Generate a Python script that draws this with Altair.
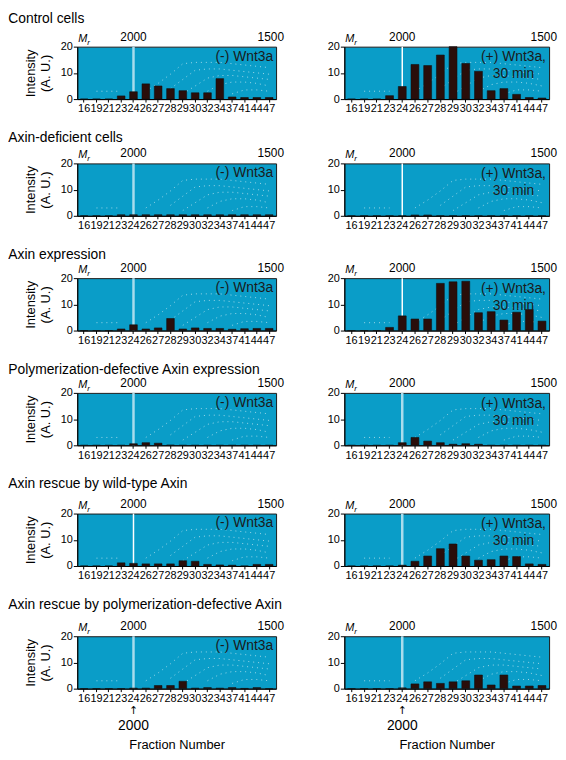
import altair as alt
import pandas as pd

fractions = ["16", "19", "21", "23", "24", "26", "27", "28", "29", "30",
             "32", "34", "37", "41", "44", "47"]

section_titles = [
    "Control cells",
    "Axin-deficient cells",
    "Axin expression",
    "Polymerization-defective Axin expression",
    "Axin rescue by wild-type Axin",
    "Axin rescue by polymerization-defective Axin",
]

# intensity (A. U.) per fraction, (-) Wnt3a panels
neg_values = [
    [0, 0, 0, 1.2, 2.8, 5.8, 5.0, 4.0, 3.2, 2.4, 2.4, 7.8, 0.8, 0.6, 0.6, 0.6],
    [0, 0, 0, 0.4, 0.4, 0.4, 0.4, 0.4, 0.4, 0.4, 0.4, 0.4, 0.4, 0.4, 0.4, 0.4],
    [0, 0, 0, 0.6, 2.2, 0.6, 1.0, 4.6, 0.6, 1.0, 0.8, 0.8, 0.5, 0.7, 0.8, 0.8],
    [0, 0, 0, 0, 0.6, 1.0, 0.8, 0.1, 0, 0, 0, 0, 0, 0, 0, 0],
    [0, 0, 0, 1.2, 1.0, 0.8, 0.8, 0.8, 2.0, 1.8, 0.6, 0.4, 0.3, 0, 0.6, 0.6],
    [0, 0, 0, 0, 0.2, 0.2, 1.2, 1.2, 2.8, 0.2, 0.4, 0.2, 0.4, 0.1, 0.4, 0],
]
# intensity (A. U.) per fraction, (+) Wnt3a 30 min panels
pos_values = [
    [0, 0, 0, 1.3, 4.8, 13.2, 12.8, 16.8, 20.0, 13.6, 10.6, 3.2, 4.0, 1.8, 0.6, 0.4],
    [0, 0, 0, 0, 0, 0.3, 0.3, 0, 0, 0, 0, 0, 0, 0, 0, 0],
    [0, 0, 0, 1.2, 5.6, 4.4, 4.4, 18.0, 18.6, 18.8, 6.8, 7.2, 4.0, 7.0, 8.0, 3.6],
    [0, 0, 0, 0, 1.0, 3.0, 1.6, 1.0, 0.4, 0.6, 0.4, 0, 0, 0, 0, 0],
    [0, 0, 0, 0, 0.3, 1.8, 3.8, 6.6, 8.4, 3.8, 2.2, 2.4, 3.8, 3.6, 0.8, 0.6],
    [0, 0, 0, 0, 0.3, 1.8, 2.6, 2.0, 2.6, 3.0, 5.2, 1.4, 5.2, 1.0, 1.0, 1.2],
]
neg_labels = [["(-) Wnt3a"]] * 6
pos_labels = [["(+) Wnt3a,", "30 min"]] * 5 + [[]]
neg_rule_light = [True, True, True, True, False, True]
pos_rule_light = [False, False, False, True, True, True]
title_offsets = [4, 2, 0, 0, 6, 8]

# faint dotted background pattern of the blot (fraction -> intensity)
pattern_lines = {
    "a": (["19", "21", "23"], [3, 3, 3]),
    "b": (["26", "27", "28", "29", "30", "32", "34", "37", "41", "44", "47"],
          [3, 6, 9.5, 13.5, 14, 14, 14, 13.5, 13, 12.5, 12]),
    "c": (["28", "29", "30", "32", "34", "37", "41", "44", "47"],
          [4, 7.5, 11, 11.5, 11.5, 11, 10.5, 10, 9.5]),
    "d": (["29", "30", "32", "34", "37", "41", "44", "47"],
          [2, 5, 8, 9, 9, 8.5, 8, 7.5]),
    "e": (["32", "34", "37", "41", "44", "47"],
          [3, 5.5, 6.5, 6.5, 6, 5]),
    "f": (["37", "41", "44", "47"],
          [2, 3.5, 3.5, 3]),
}

WL, WR, H = 201, 207, 53
FONT = "Liberation Sans"
BLUE = "#0a9dc8"

rows = []
for k, v in pattern_lines.items():
    for f, y in zip(*v):
        rows.append({"fraction": f, "intensity": y, "line": k})
pattern_df = pd.DataFrame(rows)


def panel(vals, label_lines, light_rule, show_ytitle, last_row, W):
    df = pd.DataFrame({"fraction": fractions, "intensity": vals})
    xaxis = alt.Axis(labelAngle=0, labelFontSize=11, labelPadding=1,
                     labelOverlap=False, tickSize=3, domain=True,
                     labelFont=FONT, titleFont=FONT,
                     title="Fraction Number" if last_row else None,
                     titleFontSize=13, titleFontWeight="normal",
                     titlePadding=35)
    xenc = alt.X("fraction:O", sort=fractions,
                 scale=alt.Scale(domain=fractions, paddingInner=0.38, paddingOuter=0.25),
                 axis=xaxis)
    yaxis = alt.Axis(values=[0, 10, 20], tickSize=4, labelFontSize=11,
                     labelPadding=1, labelOverlap=False,
                     labelFont=FONT, titleFont=FONT,
                     title=["Intensity", "(A. U.)"] if show_ytitle else None,
                     titleFontSize=13, titleFontWeight="normal",
                     titlePadding=8)
    yenc = alt.Y("intensity:Q", scale=alt.Scale(domain=[0, 20], nice=False), axis=yaxis)
    pat = alt.Chart(pattern_df).mark_line(
        color="white", strokeDash=[1, 4], strokeWidth=1, opacity=0.6
    ).encode(x=xenc, y=yenc, detail="line:N")
    rule = alt.Chart(pd.DataFrame({"fraction": ["24"]})).mark_rule(
        color="#a9dcec" if light_rule else "white",
        strokeWidth=2.5 if light_rule else 1.5,
    ).encode(x=xenc)
    bars = alt.Chart(df).mark_bar(color="#2a0e0a", stroke="#111", strokeWidth=0.6).encode(
        x=xenc, y=yenc)
    top2000 = alt.Chart(pd.DataFrame({"fraction": ["24"], "t": ["2000"]})).mark_text(
        fontSize=12, baseline="bottom", font=FONT, color="black"
    ).encode(x=xenc, y=alt.value(-3), text="t:N")
    top1500 = alt.Chart(pd.DataFrame({"t": ["1500"]})).mark_text(
        fontSize=12, baseline="bottom", align="right", font=FONT, color="black"
    ).encode(x=alt.value(W + 8), y=alt.value(-3), text="t:N")
    m = alt.Chart(pd.DataFrame({"t": ["M"]})).mark_text(
        fontSize=11, baseline="bottom", align="left", font=FONT, fontStyle="italic", color="black"
    ).encode(x=alt.value(1), y=alt.value(-3), text="t:N")
    r = alt.Chart(pd.DataFrame({"t": ["r"]})).mark_text(
        fontSize=8, baseline="bottom", align="left", font=FONT, fontStyle="italic", color="black"
    ).encode(x=alt.value(10), y=alt.value(0), text="t:N")
    layers = [pat, rule, bars, top2000, top1500, m, r]
    if label_lines:
        if len(label_lines) == 1:
            lab = alt.Chart(pd.DataFrame({"t": label_lines})).mark_text(
                fontSize=14, baseline="top", align="right", font=FONT, color="#1a1a1a"
            ).encode(x=alt.value(W - 3), y=alt.value(3), text="t:N")
        else:
            lab = alt.Chart(pd.DataFrame({"t": ["x"]})).mark_text(
                fontSize=14, baseline="top", align="center", font=FONT, color="#1a1a1a",
                text=label_lines, lineHeight=17
            ).encode(x=alt.value(W - 36), y=alt.value(4))
        layers.append(lab)
    if last_row:
        arrow = alt.Chart(pd.DataFrame({"fraction": ["24"], "t": ["↑"]})).mark_text(
            fontSize=11, baseline="top", font="DejaVu Sans", color="black"
        ).encode(x=xenc, y=alt.value(H + 17), text="t:N")
        lbl = alt.Chart(pd.DataFrame({"fraction": ["24"], "t": ["2000"]})).mark_text(
            fontSize=14, baseline="top", font=FONT, color="black"
        ).encode(x=xenc, y=alt.value(H + 31), text="t:N")
        layers += [arrow, lbl]
    return alt.layer(*layers).properties(width=W, height=H)


row_charts = []
for i in range(6):
    last = i == 5
    left = panel(neg_values[i], neg_labels[i], neg_rule_light[i], True, last, WL)
    right = panel(pos_values[i], pos_labels[i], pos_rule_light[i], False, last, WR)
    row = alt.hconcat(left, right, spacing=42).properties(
        title=alt.TitleParams(section_titles[i], anchor="start", fontSize=14,
                              fontWeight="normal", font=FONT, color="black",
                              dx=-16, offset=title_offsets[i])
    )
    row_charts.append(row)

chart = alt.vconcat(
    *row_charts, spacing=16, padding={"left": 0, "top": 0, "right": 0, "bottom": 0}
).configure_view(
    fill=BLUE, stroke="#1a1a1a", strokeWidth=1
).configure_axis(
    labelFont=FONT, titleFont=FONT, labelColor="black", titleColor="black",
    domainColor="black", tickColor="black", grid=False
)

chart.save("out.html", embed_options={"renderer": "svg", "actions": False})
